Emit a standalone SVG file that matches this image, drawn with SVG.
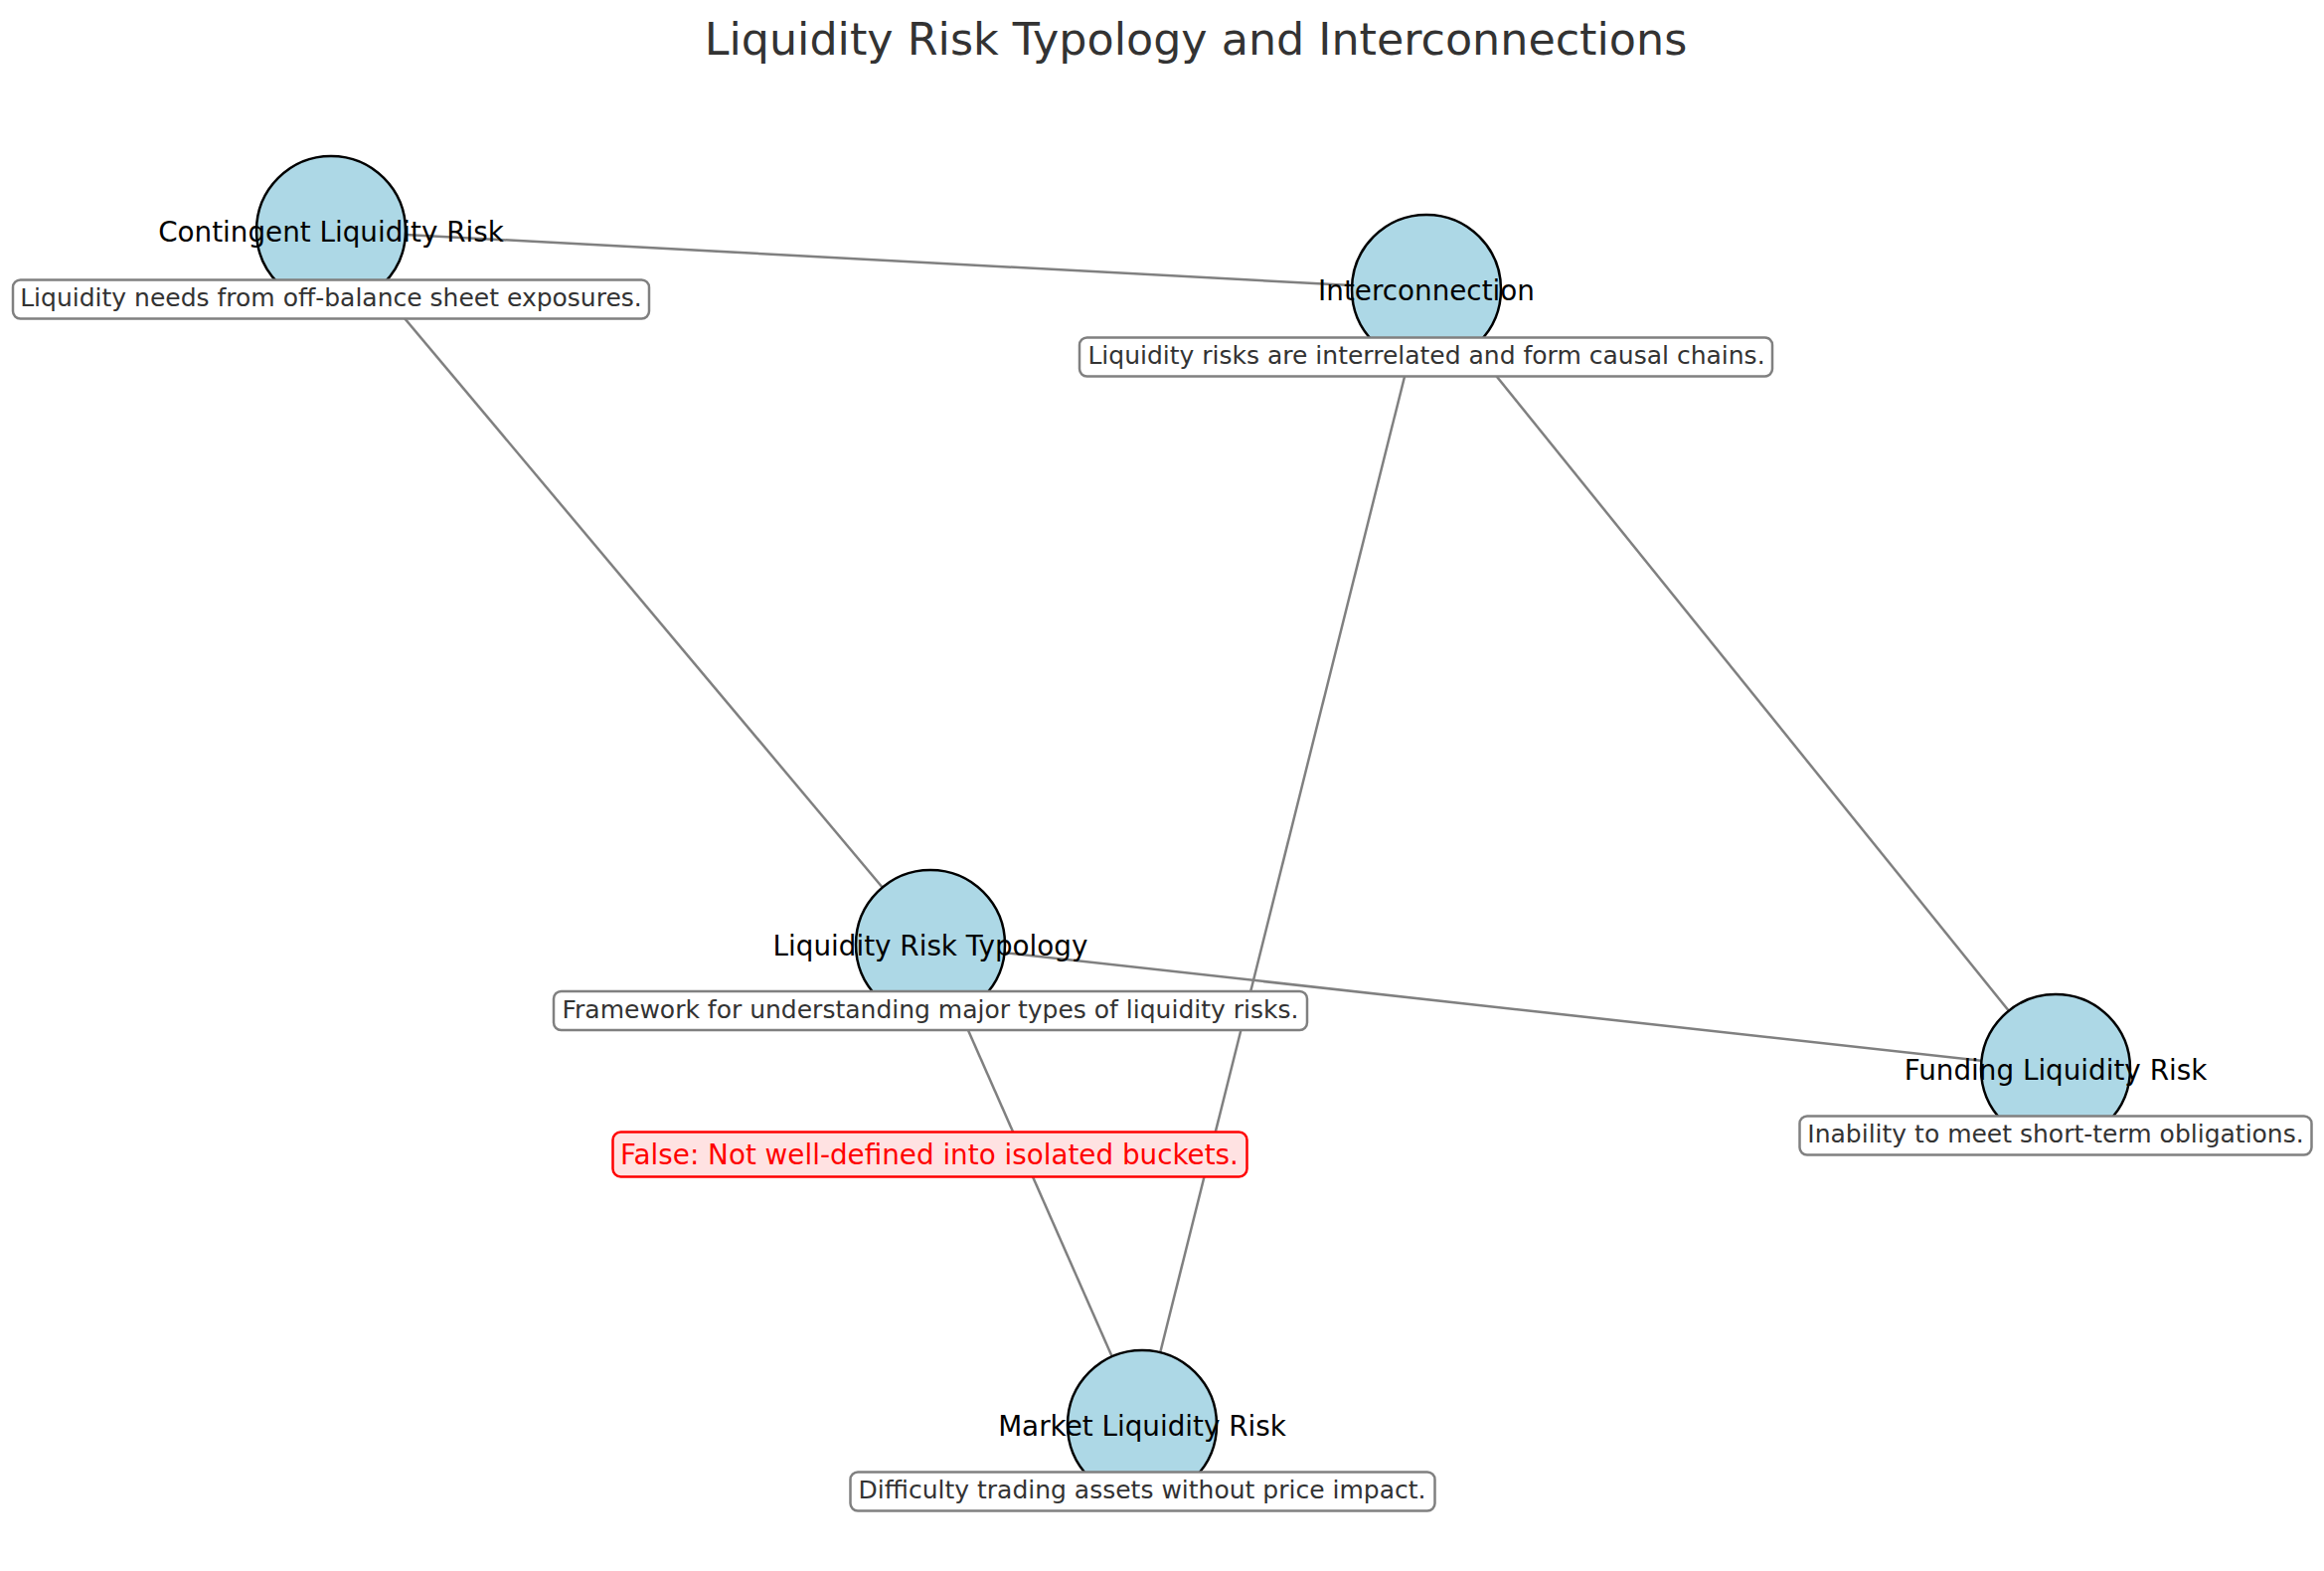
<svg xmlns="http://www.w3.org/2000/svg" width="2338" height="1580" viewBox="0 0 2338 1580">
<style>
.title{font-family:"DejaVu Sans",sans-serif;font-size:44.4px;fill:#333333;text-anchor:middle}
.edge{stroke:#808080;stroke-width:2.5;fill:none}
.node circle{fill:#ADD8E6;stroke:#000000;stroke-width:2.5}
.lbl{font-family:"DejaVu Sans",sans-serif;font-size:27.8px;fill:#000000;text-anchor:middle}
.box{fill:#ffffff;stroke:#808080;stroke-width:2.5}
.desc{font-family:"DejaVu Sans",sans-serif;font-size:25px;fill:#333333;text-anchor:middle}
.fbox{fill:#ffe2e2;stroke:#ff0000;stroke-width:2.5}
.ftxt{font-family:"DejaVu Sans",sans-serif;font-size:27.8px;fill:#ff0000;text-anchor:middle}
</style>
<rect width="2338" height="1580" fill="#ffffff"/>
<text class="title" x="1203" y="55">Liquidity Risk Typology and Interconnections</text>
<g id="connectors">
<line class="edge" x1="333" y1="232" x2="1435" y2="291"/>
<line class="edge" x1="333" y1="232" x2="936" y2="950"/>
<line class="edge" x1="1435" y1="291" x2="1149" y2="1433"/>
<line class="edge" x1="1435" y1="291" x2="2068" y2="1075"/>
<line class="edge" x1="936" y1="950" x2="2068" y2="1075"/>
<line class="edge" x1="936" y1="950" x2="1149" y2="1433"/>
</g>
<g id="node-contingent" class="node">
<circle cx="333" cy="232" r="75"/>
<text class="lbl" x="333" y="243">Contingent Liquidity Risk</text>
</g>
<g id="node-interconnection" class="node">
<circle cx="1435" cy="291" r="75"/>
<text class="lbl" x="1435" y="302">Interconnection</text>
</g>
<g id="node-typology" class="node">
<circle cx="936" cy="950" r="75"/>
<text class="lbl" x="936" y="961">Liquidity Risk Typology</text>
</g>
<g id="node-funding" class="node">
<circle cx="2068" cy="1075" r="75"/>
<text class="lbl" x="2068" y="1086">Funding Liquidity Risk</text>
</g>
<g id="node-market" class="node">
<circle cx="1149" cy="1433" r="75"/>
<text class="lbl" x="1149" y="1444">Market Liquidity Risk</text>
</g>
<g id="desc-contingent">
<rect class="box" x="13" y="281.5" width="640" height="39" rx="7.5"/>
<text class="desc" x="333" y="308">Liquidity needs from off-balance sheet exposures.</text>
</g>
<g id="desc-interconnection">
<rect class="box" x="1086" y="339.5" width="697" height="39" rx="7.5"/>
<text class="desc" x="1435" y="366">Liquidity risks are interrelated and form causal chains.</text>
</g>
<g id="desc-typology">
<rect class="box" x="557" y="997" width="758" height="39" rx="7.5"/>
<text class="desc" x="936" y="1024">Framework for understanding major types of liquidity risks.</text>
</g>
<g id="desc-funding">
<rect class="box" x="1810.5" y="1122.5" width="515" height="39" rx="7.5"/>
<text class="desc" x="2068" y="1149">Inability to meet short-term obligations.</text>
</g>
<g id="desc-market">
<rect class="box" x="855.5" y="1480.5" width="588" height="39" rx="7.5"/>
<text class="desc" x="1149" y="1507">Difficulty trading assets without price impact.</text>
</g>
<g id="false-note">
<rect class="fbox" x="616.5" y="1138.5" width="638" height="45" rx="8"/>
<text class="ftxt" x="935" y="1171">False: Not well-defined into isolated buckets.</text>
</g>
</svg>
